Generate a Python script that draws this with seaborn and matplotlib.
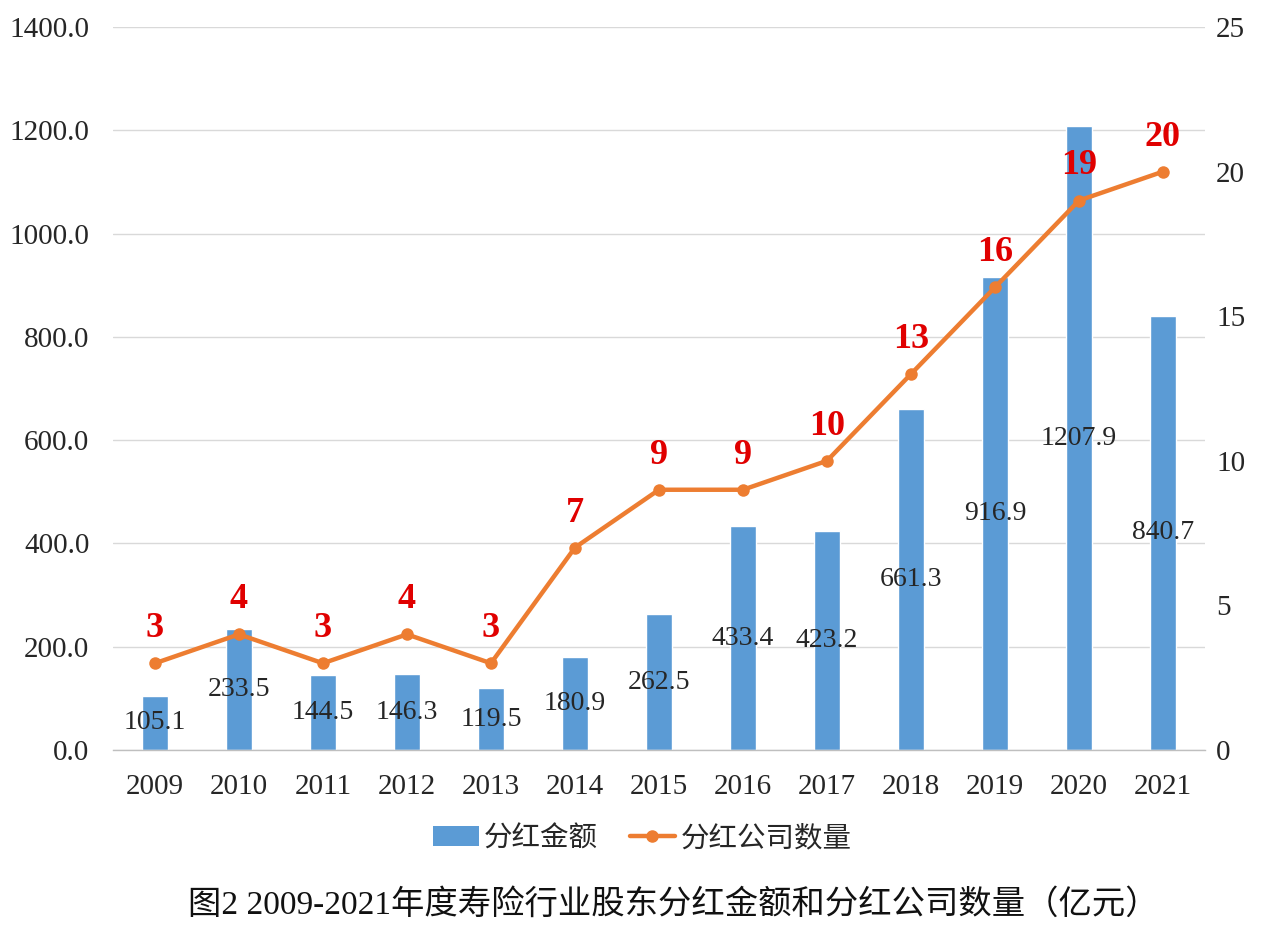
import matplotlib
matplotlib.use("Agg")
import matplotlib.pyplot as plt
import seaborn as sns
import pandas as pd
from matplotlib.lines import Line2D
from matplotlib.patches import Patch

years = ["2009", "2010", "2011", "2012", "2013", "2014", "2015",
         "2016", "2017", "2018", "2019", "2020", "2021"]
dividend_amount = [105.1, 233.5, 144.5, 146.3, 119.5, 180.9, 262.5,
                   433.4, 423.2, 661.3, 916.9, 1207.9, 840.7]
company_count = [3, 4, 3, 4, 3, 7, 9, 9, 10, 13, 16, 19, 20]
left_ticks = [0, 200, 400, 600, 800, 1000, 1200, 1400]
right_ticks = [0, 5, 10, 15, 20, 25]
legend_labels = ["分红金额", "分红公司数量"]
title_text = "图2 2009-2021年度寿险行业股东分红金额和分红公司数量（亿元）"

sns.set_theme(style="white")
SERIF = ["Liberation Serif", "Noto Sans CJK SC", "DejaVu Sans"]
CJK = ["Noto Sans CJK SC", "DejaVu Sans"]
plt.rcParams["font.family"] = SERIF

BLUE = "#5B9BD5"
ORANGE = "#ED7D31"
TXT = "#262626"

df = pd.DataFrame({"year": years, "amount": dividend_amount, "count": company_count})

fig = plt.figure(figsize=(12.72, 9.42), dpi=100)
ax = fig.add_axes([0.0888, 0.2038, 0.8585, 0.7675])

sns.barplot(data=df, x="year", y="amount", color=BLUE, saturation=1,
            width=0.3, ax=ax, zorder=2)
ax.set_xlim(-0.5, len(years) - 0.5)
ax.set_ylim(0, 1400)
ax.set_yticks(left_ticks)
ax.set_yticklabels([f"{v:.1f}" for v in left_ticks])
ax.set_xlabel("")
ax.set_ylabel("")
ax.grid(axis="y", color="#D9D9D9", linewidth=1.0, zorder=0)
ax.set_axisbelow(True)
for s in ["top", "left", "right"]:
    ax.spines[s].set_visible(False)
ax.spines["bottom"].set_color("#BFBFBF")
ax.spines["bottom"].set_linewidth(1.0)
ax.tick_params(axis="x", length=0, pad=17, labelsize=21, labelcolor=TXT)
ax.tick_params(axis="y", length=0, pad=17, labelsize=21, labelcolor=TXT)

for i, v in enumerate(dividend_amount):
    ax.text(i, v / 2, f"{v:.1f}", ha="center", va="center", fontsize=20,
            color=TXT, family=SERIF, zorder=5)

ax2 = ax.twinx()
sns.lineplot(x=list(range(len(years))), y=company_count, color=ORANGE, linewidth=3.2,
             marker="o", markersize=9, markeredgewidth=0, ax=ax2, zorder=4)
ax2.set_ylim(0, 25)
ax2.set_yticks(right_ticks)
ax2.set_yticklabels([str(v) for v in right_ticks])
ax2.tick_params(axis="y", length=0, pad=8, labelsize=21, labelcolor=TXT)
for s in ["top", "left", "right", "bottom"]:
    ax2.spines[s].set_visible(False)
ax2.grid(False)
ax2.set_xlim(-0.5, len(years) - 0.5)

for i, c in enumerate(company_count):
    ax2.annotate(str(c), (i, c), xytext=(0, 13), textcoords="offset points",
                 ha="center", va="bottom", fontsize=26, fontweight="bold",
                 color="#E00000", family=SERIF)

handles = [Patch(facecolor=BLUE, edgecolor="none"),
           Line2D([0], [0], color=ORANGE, linewidth=3.2, marker="o", markersize=8)]
leg = fig.legend(handles, legend_labels, loc="center", bbox_to_anchor=(0.505, 0.110),
                 ncol=2, frameon=False, prop={"family": CJK, "size": 20.5},
                 handlelength=1.6, handleheight=0.7, columnspacing=1.1, handletextpad=0.2)
for t in leg.get_texts():
    t.set_color(TXT)

fig.text(0.529, 0.039, title_text, ha="center", va="center", fontsize=24,
         color="#111111", family=SERIF)

fig.savefig("out.png", dpi=100, facecolor="white")
